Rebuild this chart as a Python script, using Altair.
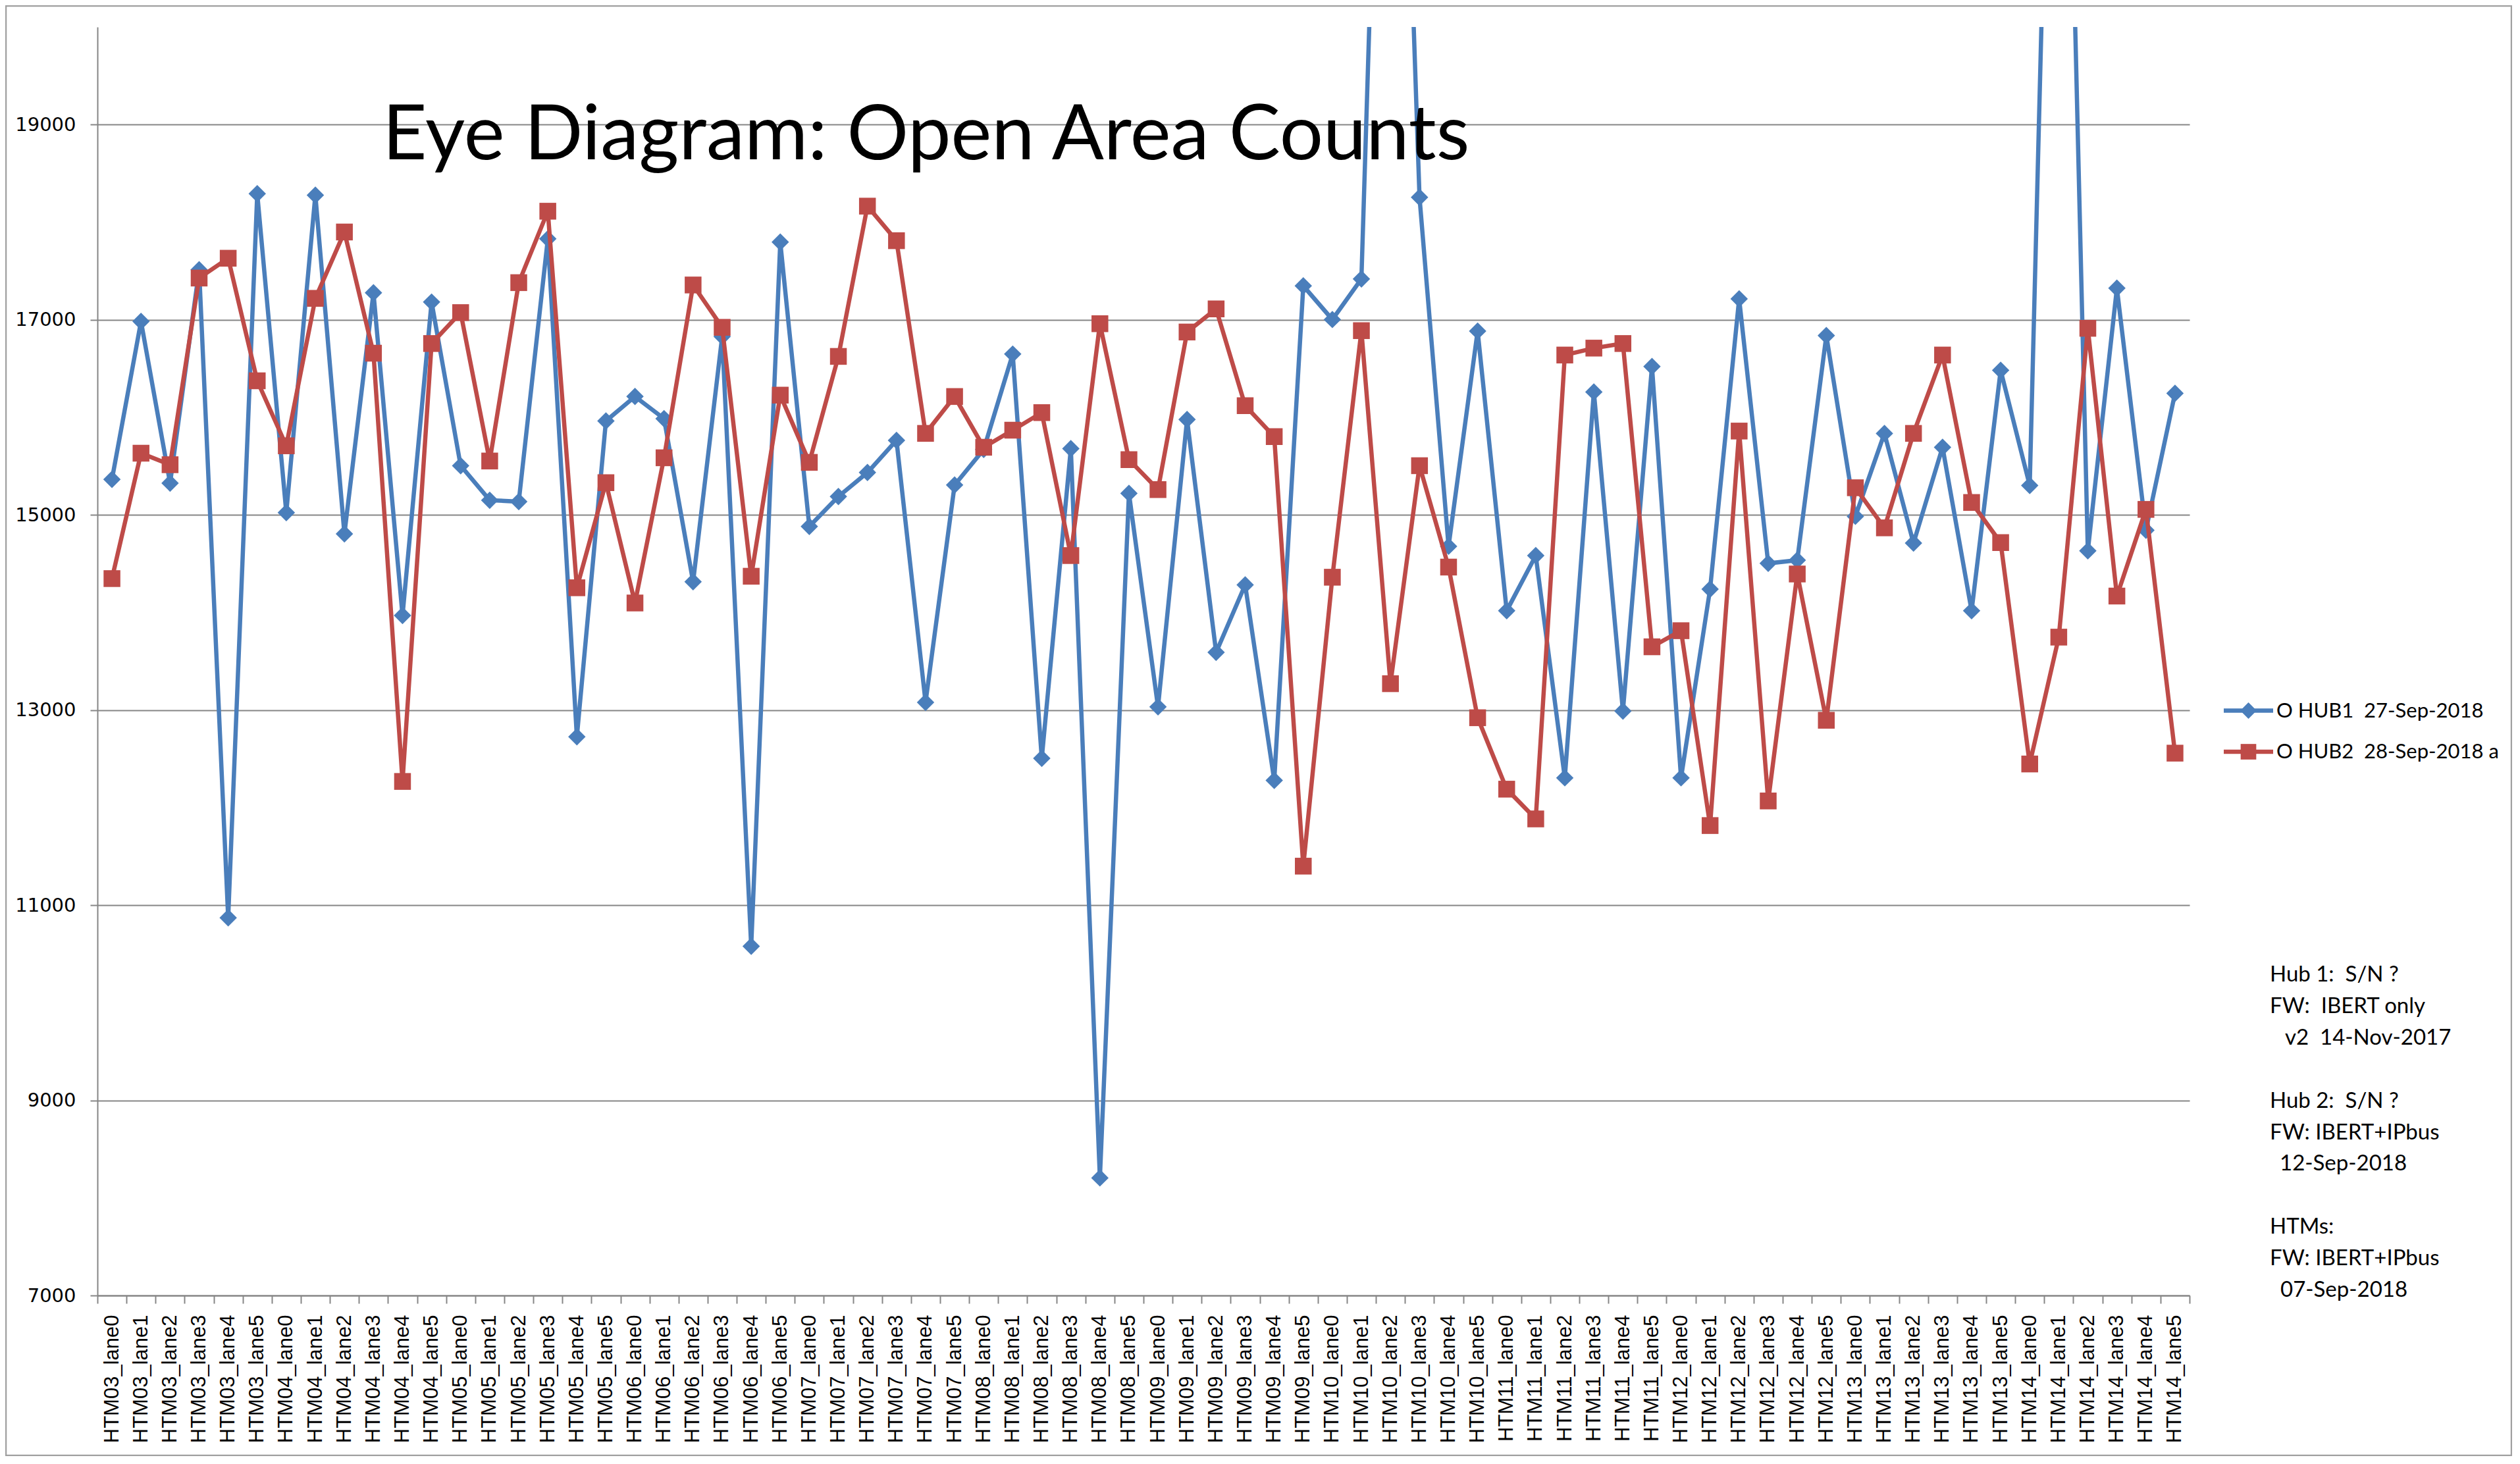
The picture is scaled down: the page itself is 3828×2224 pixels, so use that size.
import altair as alt
import pandas as pd

# ---------------- data ----------------
htms = ["HTM03", "HTM04", "HTM05", "HTM06", "HTM07", "HTM08",
        "HTM09", "HTM10", "HTM11", "HTM12", "HTM13", "HTM14"]
lanes = ["lane0", "lane1", "lane2", "lane3", "lane4", "lane5"]
categories = [f"{h}_{l}" for h in htms for l in lanes]

hub1 = [15363, 16983, 15325, 17512, 10870, 18291,
        15023, 18277, 14805, 17276, 13969, 17181,
        15504, 15150, 15136, 17829, 12726, 15963,
        16213, 15986, 14314, 16827, 10579, 17795,
        14881, 15188, 15434, 15764, 13079, 15306,
        15670, 16648, 12505, 15679, 8205, 15221,
        13032, 15977, 13591, 14282, 12279, 17347,
        17002, 17418, 27000, 18254, 14678, 16884,
        14017, 14583, 12305, 16260, 12989, 16520,
        12305, 14239, 17214, 14503, 14536, 16837,
        14985, 15835, 14711, 15693, 14017, 16482,
        15301, 27000, 14631, 17323, 14843, 16246]

hub2 = [14347, 15632, 15514, 17427, 17630, 16374,
        15708, 17219, 17899, 16657, 12268, 16756,
        17073, 15552, 17380, 18112, 14253, 15330,
        14097, 15585, 17356, 16922, 14371, 16227,
        15538, 16624, 18164, 17810, 15835, 16213,
        15693, 15868, 16048, 14583, 16959, 15566,
        15259, 16874, 17111, 16119, 15802, 11400,
        14361, 16888, 13270, 15504, 14465, 12921,
        12189, 11884, 16638, 16709, 16756, 13648,
        13813, 11816, 15859, 12068, 14394, 12895,
        15278, 14867, 15835, 16638, 15127, 14716,
        12447, 13747, 16912, 14168, 15056, 12558]

series_names = ["O\u00a0HUB1\u00a0\u00a027-Sep-2018", "O\u00a0HUB2\u00a0\u00a028-Sep-2018\u00a0a"]
y_ticks = [7000, 9000, 11000, 13000, 15000, 17000, 19000]
title_text = "Eye Diagram: Open Area Counts"
note_lines = [
    "Hub\u00a01:\u00a0\u00a0S/N\u00a0?",
    "FW:\u00a0\u00a0IBERT\u00a0only",
    "v2\u00a0\u00a014-Nov-2017",
    "",
    "Hub\u00a02:\u00a0\u00a0S/N\u00a0?",
    "FW:\u00a0IBERT+IPbus",
    "12-Sep-2018",
    "",
    "HTMs:",
    "FW:\u00a0IBERT+IPbus",
    "07-Sep-2018",
]

BLUE = "#4A7EBB"
RED = "#BE4B48"
GRAY = "#868686"

W, H = 3178, 1927

df1 = pd.DataFrame({"cat": categories, "value": hub1})
df2 = pd.DataFrame({"cat": categories, "value": hub2})
one = pd.DataFrame({"k": [0]})

x_enc = alt.X(
    "cat:N",
    sort=categories,
    bandPosition=0.5,
    scale=alt.Scale(type="band", paddingInner=0, paddingOuter=0),
    axis=alt.Axis(
        title=None,
        labelAngle=-90,
        labelFont="Liberation Sans",
        labelFontSize=31,
        labelColor="#000000",
        labelPadding=17,
        labelOverlap=False,
        labelLimit=0,
        tickBand="extent",
        tickSize=12,
        tickColor=GRAY,
        tickWidth=2,
        domainColor=GRAY,
        domainWidth=2,
        grid=False,
    ),
)
y_enc = alt.Y(
    "value:Q",
    scale=alt.Scale(domain=[7000, 20000], nice=False, zero=False),
    axis=alt.Axis(
        title=None,
        values=y_ticks,
        format="d",
        labelFont="DejaVu Sans",
        labelFontSize=29,
        labelColor="#000000",
        labelPadding=22,
        tickSize=11,
        tickColor=GRAY,
        tickWidth=2,
        domainColor=GRAY,
        domainWidth=2,
        grid=True,
        gridColor=GRAY,
        gridWidth=2,
    ),
)

line1 = alt.Chart(df1).mark_line(color=BLUE, strokeWidth=6.5, clip=True).encode(x=x_enc, y=y_enc)
pts1 = alt.Chart(df1).mark_point(shape="diamond", filled=True, color=BLUE, size=700, opacity=1, clip=True).encode(x=x_enc, y=y_enc)
line2 = alt.Chart(df2).mark_line(color=RED, strokeWidth=6.5, clip=True).encode(x=x_enc, y=y_enc)
pts2 = alt.Chart(df2).mark_point(shape="square", filled=True, color=RED, size=650, opacity=1, clip=True).encode(x=x_enc, y=y_enc)

title = alt.Chart(one).mark_text(
    text=title_text, font="Lato", fontSize=117, align="left", baseline="alphabetic", color="#000000"
).encode(x=alt.value(433), y=alt.value(201))

# manual legend
leg = []
for i, (name, col, shp, sz) in enumerate(zip(series_names, [BLUE, RED], ["diamond", "square"], [620, 560])):
    yy = 1038.5 + i * 62.5
    leg.append(alt.Chart(one).mark_rule(color=col, strokeWidth=6.5).encode(
        x=alt.value(3230), x2=alt.value(3305), y=alt.value(yy)))
    leg.append(alt.Chart(one).mark_point(shape=shp, filled=True, color=col, size=sz, opacity=1).encode(
        x=alt.value(3267.5), y=alt.value(yy)))
    leg.append(alt.Chart(one).mark_text(text=name, font="Lato", fontSize=31, align="left",
                                        baseline="middle", color="#000000").encode(
        x=alt.value(3310), y=alt.value(yy + 1)))

# side notes, one text mark per line
note_indent = {2: 23, 6: 15, 10: 16}
notes = []
for k, line in enumerate(note_lines):
    if not line:
        continue
    notes.append(alt.Chart(one).mark_text(
        text=line, font="Lato", fontSize=33, align="left", baseline="alphabetic", color="#000000"
    ).encode(x=alt.value(3300 + note_indent.get(k, 0)), y=alt.value(1450 + 47.9 * k)))

frame = alt.Chart(one).mark_rect(fill="#ffffff", fillOpacity=0, stroke="#a0a0a0", strokeWidth=2.5).encode(
    x=alt.value(-139), x2=alt.value(3667), y=alt.value(-32), y2=alt.value(2170))

chart = alt.layer(
    frame, line1, pts1, line2, pts2, title, *leg, *notes
).properties(
    width=W, height=H,
    autosize=alt.AutoSizeParams(type="none"),
    padding={"left": 140, "top": 33, "right": 490, "bottom": 244},
    background="#ffffff",
).configure_view(strokeWidth=0)

chart.save("out.html", embed_options={"renderer": "svg", "actions": False})
